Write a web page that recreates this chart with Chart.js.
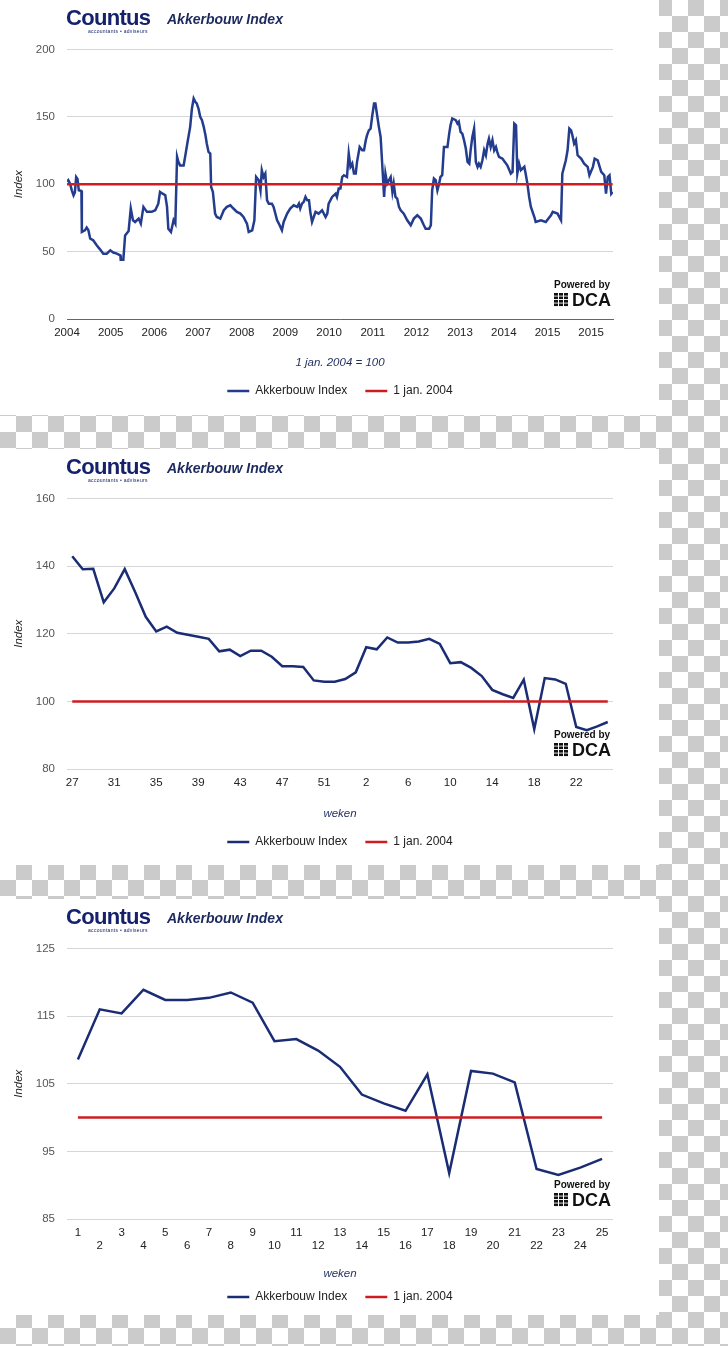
<!DOCTYPE html>
<html>
<head>
<meta charset="utf-8">
<script src="https://cdn.jsdelivr.net/npm/chart.js@4.4.1/dist/chart.umd.min.js"></script>
<style>
html, body { margin: 0; padding: 0; }
body {
    width: 728px; height: 1346px; position: relative; overflow: hidden;
    background-color: #fff;
    background-image:
        linear-gradient(45deg, #cbcbcb 25%, transparent 25%, transparent 75%, #cbcbcb 75%),
        linear-gradient(45deg, #cbcbcb 25%, transparent 25%, transparent 75%, #cbcbcb 75%);
    background-size: 32px 32px;
    background-position: 0 0, 16px 16px;
    font-family: 'Liberation Sans', Arial, sans-serif;
}
.panel { position: absolute; left: 0; width: 659px; background: #fff; }
.panel canvas { position: absolute; left: 0; top: 0; }
.brand { position: absolute; left: 66px; top: 7px; font-size: 22px; line-height: 22px; font-weight: bold;
    color: #15226b; letter-spacing: -0.7px; }
.tag { position: absolute; left: 88px; top: 29px; font-size: 5px; line-height: 5px; color: #15226b; letter-spacing: 0.3px; }
.title { position: absolute; left: 167px; top: 12px; font-size: 14px; line-height: 14px; font-weight: bold;
    font-style: italic; color: #1c2a5e; }
.powered { position: absolute; left: 554px; font-size: 10px; line-height: 11px; font-weight: bold; color: #111; }
.dca { position: absolute; left: 572px; font-size: 18px; line-height: 18px; font-weight: bold; color: #111; }
.dots { position: absolute; left: 554px; width: 14px; height: 14px;
    background-image: linear-gradient(0deg, #fff 1px, transparent 1px),
                      linear-gradient(90deg, #111 4px, transparent 4px, transparent 5px);
    background-size: 14px 3.5px, 5px 14px; }
</style>
</head>
<body>
<div class="panel" id="p1" style="top:0;height:415px"><canvas id="chart1" width="680" height="415"></canvas></div>
<div class="panel" id="p2" style="top:449px;height:416px"><canvas id="chart2" width="680" height="416"></canvas></div>
<div class="panel" id="p3" style="top:899px;height:416px"><canvas id="chart3" width="680" height="416"></canvas></div>
<script>
// tick labels of the long-term chart
const yearLabels = ['2004', '2005', '2006', '2007', '2008', '2009', '2010',
    '2011', '2012', '2013', '2014', '2015', '2015'];

// position along the axis (in label steps) and index value
const indexPos = [
    0, 0.03, 0.07, 0.11, 0.15, 0.18, 0.21, 0.24, 0.27, 0.33,
    0.34, 0.41, 0.45, 0.49, 0.53, 0.60, 0.68, 0.76, 0.83, 0.91,
    0.99, 1.06, 1.14, 1.22, 1.23, 1.29, 1.33, 1.41, 1.46, 1.51,
    1.56, 1.64, 1.69, 1.75, 1.83, 1.94, 2.02, 2.09, 2.13, 2.19,
    2.25, 2.29, 2.32, 2.38, 2.44, 2.48, 2.52, 2.55, 2.59, 2.67,
    2.71, 2.76, 2.82, 2.86, 2.90, 2.94, 2.97, 3.01, 3.05, 3.09,
    3.13, 3.17, 3.20, 3.24, 3.28, 3.30, 3.34, 3.39, 3.43, 3.51,
    3.59, 3.66, 3.74, 3.81, 3.89, 3.97, 4.04, 4.12, 4.16, 4.24,
    4.29, 4.33, 4.39, 4.43, 4.46, 4.50, 4.54, 4.58, 4.62, 4.69,
    4.73, 4.81, 4.85, 4.92, 4.96, 5.04, 5.11, 5.19, 5.27, 5.31,
    5.34, 5.38, 5.42, 5.46, 5.50, 5.54, 5.57, 5.61, 5.69, 5.76,
    5.84, 5.92, 5.96, 5.99, 6.07, 6.15, 6.18, 6.22, 6.26, 6.30,
    6.34, 6.41, 6.45, 6.49, 6.53, 6.57, 6.61, 6.64, 6.70, 6.76,
    6.80, 6.84, 6.87, 6.91, 6.95, 6.99, 7.03, 7.06, 7.10, 7.14,
    7.18, 7.22, 7.26, 7.29, 7.33, 7.37, 7.41, 7.45, 7.48, 7.52,
    7.56, 7.60, 7.64, 7.71, 7.79, 7.87, 7.94, 8.02, 8.10, 8.17,
    8.21, 8.29, 8.33, 8.36, 8.40, 8.44, 8.48, 8.52, 8.55, 8.59,
    8.63, 8.71, 8.75, 8.78, 8.82, 8.90, 8.94, 8.97, 9.01, 9.05,
    9.09, 9.13, 9.17, 9.21, 9.24, 9.28, 9.32, 9.36, 9.40, 9.43,
    9.47, 9.51, 9.55, 9.59, 9.63, 9.66, 9.70, 9.74, 9.78, 9.82,
    9.85, 9.89, 9.97, 10.08, 10.16, 10.20, 10.24, 10.28, 10.31, 10.35,
    10.39, 10.47, 10.50, 10.54, 10.58, 10.62, 10.70, 10.73, 10.85, 10.96,
    11.08, 11.12, 11.23, 11.31, 11.34, 11.42, 11.46, 11.50, 11.54, 11.57,
    11.61, 11.65, 11.69, 11.77, 11.84, 11.92, 11.96, 12.04, 12.08, 12.15,
    12.23, 12.30, 12.34, 12.38, 12.42, 12.46, 12.49
];
const indexValues = [
    102, 103, 100.5, 95.5, 91.8, 94, 105.4, 104, 95.5, 95,
    64.6, 65.8, 67.8, 65.8, 59.7, 58.4, 54.7, 51.5, 48.5, 48.5,
    51, 49.3, 48.5, 47.3, 44, 44, 62, 65.3, 82, 73.3,
    72, 74.5, 70.8, 83.2, 79.5, 79.5, 80.7, 85.6, 94.3, 93,
    91.8, 83.2, 67, 64.6, 73.3, 70.8, 120.3, 116.6, 114, 114,
    121.5, 131.4, 142.6, 156.2, 163.6, 161, 160, 156.2, 150, 147.5,
    142.6, 136.4, 130.2, 124, 122.8, 98, 94.3, 78.2, 75.7, 74.5,
    80.7, 83.2, 84.4, 82, 79.5, 78.2, 75.7, 70.8, 64.6, 65.8,
    73.3, 105.4, 103, 95.5, 110.4, 105.4, 107.9, 88.1, 85.6, 85.6,
    83.2, 73.3, 70.8, 65.8, 72, 78.2, 82, 84.4, 83.2, 85.6,
    82, 85.6, 86.9, 90.6, 88.1, 88.1, 79.5, 72, 79.5, 78.2,
    80.7, 75.7, 78.2, 85.6, 90.6, 93, 90.6, 96.8, 96.8, 105.4,
    106.7, 105.4, 122.8, 112.9, 115.3, 107.9, 107.9, 116.6, 127.7, 125.2,
    125.2, 132.7, 136.4, 140, 141.3, 151.2, 159.9, 159.9, 151.2, 142.6,
    135.1, 112.9, 90.6, 107.9, 100.5, 103, 105.4, 94.3, 100.5, 90.6,
    89.4, 83.2, 80.7, 78.2, 73.3, 69.6, 74.5, 77, 74.5, 69.6,
    67, 67, 69.6, 95.5, 104.2, 103, 95.5, 100.5, 105.4, 106.7,
    127.7, 127.7, 137.6, 143.8, 148.8, 147.5, 145, 146.3, 138.9, 137.6,
    132.7, 126.5, 116.6, 115.3, 125.2, 135.1, 141.3, 116.6, 112.9, 115.3,
    112.9, 117.8, 125.2, 121.5, 130.2, 133.9, 127.7, 132.7, 125.2, 127.7,
    124, 120.3, 119, 114.1, 107.9, 109.2, 145, 143.8, 107.9, 115.3,
    110.4, 112.9, 107.9, 100.5, 90.6, 83.2, 75.7, 72, 73.3, 72,
    77, 79.5, 78.2, 73.3, 107.9, 117.8, 125.2, 141.3, 140, 136.4,
    130.2, 132.7, 121.5, 119, 115.3, 112.9, 106.7, 112.9, 119, 117.8,
    109.2, 106.7, 93, 105.4, 106.7, 93, 94.3
];

// reference level: 1 jan. 2004 = 100
const baseValue = 100;

// weekly index, week 27 of 2015 up to week 25 of 2016
const weeks2015 = [27, 28, 29, 30, 31, 32, 33, 34, 35, 36, 37, 38, 39, 40,
    41, 42, 43, 44, 45, 46, 47, 48, 49, 50, 51, 52, 53];
const values2015 = [142.9, 139.1, 139.2, 129.3, 133.4, 139.1, 132.3, 125, 120.7, 122.1,
    120.3, 119.7, 119.1, 118.5, 114.8, 115.3, 113.4, 115, 115, 113.2,
    110.4, 110.4, 110.2, 106.2, 105.8, 105.8, 106.6];
const weeks2016 = [1, 2, 3, 4, 5, 6, 7, 8, 9, 10, 11, 12, 13, 14, 15, 16, 17,
    18, 19, 20, 21, 22, 23, 24, 25];
const values2016 = [108.6, 116, 115.4, 118.9, 117.4, 117.4, 117.7, 118.5, 117, 111.3,
    111.6, 109.9, 107.5, 103.4, 102.1, 101, 106.4, 91.8, 106.9, 106.5,
    105.2, 92.4, 91.5, 92.6, 93.9];

const blueLong = 'rgb(35, 60, 142)';
const blueWeek = 'rgb(26, 44, 116)';
const redLine = 'rgb(206, 28, 32)';
const titleBlue = '#1f2d5e';
const fam = "'Liberation Sans', Arial, sans-serif";

Chart.defaults.font.family = fam;

// branding on top of each panel
function addBranding(panelId, poweredTop) {
    const p = document.getElementById(panelId);
    p.insertAdjacentHTML('beforeend',
        '<div class="brand">Countus</div>' +
        '<div class="tag">accountants \u2022 adviseurs</div>' +
        '<div class="title">Akkerbouw Index</div>' +
        '<div class="powered" style="top:' + poweredTop + 'px">Powered by</div>' +
        '<div class="dots" style="top:' + (poweredTop + 14) + 'px"></div>' +
        '<div class="dca" style="top:' + (poweredTop + 12) + 'px">DCA</div>');
}
addBranding('p1', 279);
addBranding('p2', 280);
addBranding('p3', 280);

function makeOptions(cfg) {
    return {
        responsive: false,
        animation: false,
        layout: { padding: { top: 49.5, bottom: cfg.bottom, left: 0, right: 0 } },
        elements: { point: { radius: 0 }, line: { tension: 0 } },
        plugins: {
            legend: {
                position: 'bottom',
                labels: {
                    usePointStyle: true,
                    pointStyle: 'line',
                    pointStyleWidth: 22,
                    boxHeight: 12,
                    padding: 18,
                    color: '#222',
                    font: { size: 12 },
                    sort: (a, b) => a.datasetIndex - b.datasetIndex
                }
            },
            tooltip: { enabled: false }
        },
        scales: {
            x: cfg.x,
            y: {
                position: 'left',
                min: cfg.yMin,
                max: cfg.yMax,
                ticks: { stepSize: cfg.yStep, padding: 12, color: '#555', font: { size: 11.5 } },
                grid: { color: '#d6d6d6', drawTicks: false },
                border: { display: false },
                title: {
                    display: true, text: 'Index', color: '#222',
                    font: { size: 11.5, style: 'italic' },
                    padding: { top: 12, bottom: 0 }
                },
                afterFit: s => { s.width = 67; }
            },
            yRight: {
                position: 'right',
                ticks: { display: false },
                grid: { display: false },
                border: { display: false },
                afterFit: s => { s.width = 67; }
            }
        }
    };
}

function xTitle(text, bottomPad) {
    return {
        display: true, text: text, color: titleBlue,
        font: { size: 11.5, style: 'italic' },
        padding: { top: 0, bottom: bottomPad }
    };
}

// chart 1: since 2004
const longPoints = indexPos.map((p, i) => ({ x: p, y: indexValues[i] }));
const longBase = indexPos.map(p => ({ x: p, y: baseValue }));

new Chart(document.getElementById('chart1').getContext('2d'), {
    type: 'line',
    data: {
        datasets: [{
            label: 'Akkerbouw Index',
            data: longPoints,
            borderColor: blueLong,
            backgroundColor: blueLong,
            borderWidth: 2.5,
            fill: false,
            order: 2
        }, {
            label: '1 jan. 2004',
            data: longBase,
            borderColor: redLine,
            backgroundColor: redLine,
            borderWidth: 2.5,
            fill: false,
            order: 1
        }]
    },
    options: makeOptions({
        bottom: 8, yMin: 0, yMax: 200, yStep: 50,
        x: {
            type: 'linear', min: 0, max: 12.5,
            afterBuildTicks: s => { s.ticks = yearLabels.map((l, i) => ({ value: i })); },
            ticks: { padding: 6.5, color: '#222', font: { size: 11.5 }, autoSkip: false, maxRotation: 0,
                callback: v => yearLabels[v] },
            grid: { display: false, drawTicks: false },
            border: { display: true, color: '#666', width: 1 },
            title: xTitle('1 jan. 2004 = 100', -2.5),
            afterFit: s => { s.height = 48; }
        }
    })
});

// chart 2: last 52 weeks
const weekLabels = weeks2015.concat(weeks2016);
const weekValues = values2015.concat(values2016);

new Chart(document.getElementById('chart2').getContext('2d'), {
    type: 'line',
    data: {
        labels: weekLabels,
        datasets: [{
            label: 'Akkerbouw Index',
            data: weekValues,
            borderColor: blueWeek,
            backgroundColor: blueWeek,
            borderWidth: 2.5,
            fill: false,
            order: 2
        }, {
            label: '1 jan. 2004',
            data: weekLabels.map(() => baseValue),
            borderColor: redLine,
            backgroundColor: redLine,
            borderWidth: 2.5,
            fill: false,
            order: 1
        }]
    },
    options: makeOptions({
        bottom: 7, yMin: 80, yMax: 160, yStep: 20,
        x: {
            type: 'category', offset: true,
            ticks: { padding: 6.5, color: '#222', font: { size: 11.5 }, autoSkip: false, maxRotation: 0,
                callback: (v, i) => (i % 4 === 0 ? String(weekLabels[i]) : '') },
            grid: { display: false, drawTicks: false },
            border: { display: false },
            title: xTitle('weken', -2.5),
            afterFit: s => { s.height = 49; }
        }
    })
});

// chart 3: this year
new Chart(document.getElementById('chart3').getContext('2d'), {
    type: 'line',
    data: {
        labels: weeks2016,
        datasets: [{
            label: 'Akkerbouw Index',
            data: values2016,
            borderColor: blueWeek,
            backgroundColor: blueWeek,
            borderWidth: 2.5,
            fill: false,
            order: 2
        }, {
            label: '1 jan. 2004',
            data: weeks2016.map(() => baseValue),
            borderColor: redLine,
            backgroundColor: redLine,
            borderWidth: 2.5,
            fill: false,
            order: 1
        }]
    },
    options: makeOptions({
        bottom: 2, yMin: 85, yMax: 125, yStep: 10,
        x: {
            type: 'category', offset: true,
            ticks: { padding: 6.5, color: '#222', font: { size: 11.5 }, autoSkip: false, maxRotation: 0,
                callback: (v, i) => (i % 2 === 0 ? String(weeks2016[i]) : ['', String(weeks2016[i])]) },
            grid: { display: false, drawTicks: false },
            border: { display: false },
            title: xTitle('weken', -7.5),
            afterFit: s => { s.height = 54; }
        }
    })
});
</script>
</body>
</html>
